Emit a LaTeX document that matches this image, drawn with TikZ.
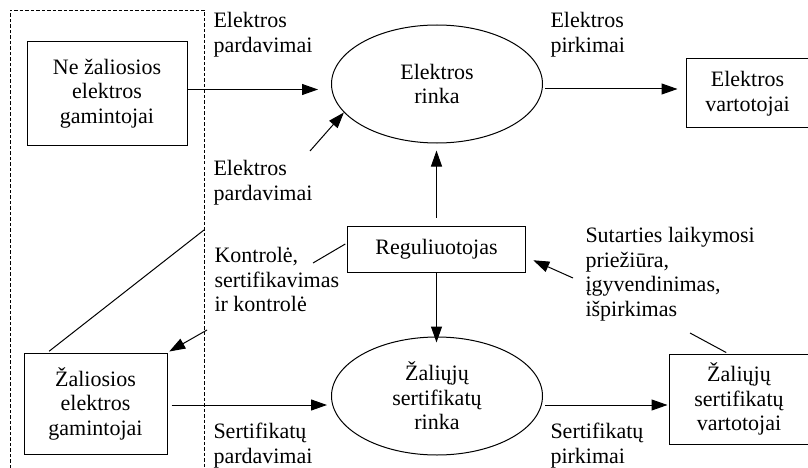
\documentclass[tikz,border=0pt]{standalone}
\usepackage{fontspec}
\setmainfont{Liberation Serif}
\usetikzlibrary{shapes.geometric,arrows.meta}

\begin{document}
\begin{tikzpicture}[x=1pt,y=-1pt,line width=1pt,
  every node/.style={font=\fontsize{22}{24.5}\selectfont},
  box/.style={draw,rectangle,align=center,inner sep=0pt},
  market/.style={draw,ellipse,align=center,inner sep=0pt,minimum width=211pt,minimum height=118pt},
  lbl/.style={anchor=north west,align=left,inner sep=0pt},
  arr/.style={-{Triangle[length=16pt,width=11pt]}}]
\useasboundingbox (0,0) rectangle (808,468);

% dashed group of producers
\draw[dash pattern=on 3.5pt off 2pt,line width=0.8pt] (10,468) -- (10,10) -- (204,10) -- (204,468);
\coordinate(F) at (204,230);

\node(NG)[box,minimum width=160pt,minimum height=103pt] at (107,93.5) {Ne žaliosios\\elektros\\gamintojai};
\node(ER)[market] at (437,84) {Elektros\\rinka};
\node(EV)[box,minimum width=123pt,minimum height=69pt] at (747.5,93.5) {Elektros\\vartotojai};
\node(RG)[box,minimum width=178pt,minimum height=46pt] at (436.5,249) {Reguliuotojas};
\node(ZR)[market] at (437,396) {Žaliųjų\\sertifikatų\\rinka};
\node(ZG)[box,minimum width=143pt,minimum height=101pt] at (95.5,403.5) {Žaliosios\\elektros\\gamintojai};
\node(ZV)[box,minimum width=140pt,minimum height=90pt] at (739,399) {Žaliųjų\\sertifikatų\\vartotojai};

% labels
\node(L1)[lbl] at (213,12) {Elektros\\pardavimai};
\node(L2)[lbl] at (550,12) {Elektros\\pirkimai};
\node(L3)[lbl] at (213,160) {Elektros\\pardavimai};
\node(L4)[lbl] at (214,247) {Kontrolė,\\sertifikavimas\\ir kontrolė};
\node(L5)[lbl] at (585,227) {Sutarties laikymosi\\priežiūra,\\įgyvendinimas,\\išpirkimas};
\node(L6)[lbl] at (213,423) {Sertifikatų\\pardavimai};
\node(L7)[lbl] at (550,423) {Sertifikatų\\pirkimai};

\coordinate(t3) at (310,151);
\coordinate(t8) at (573,278);
\coordinate(t9) at (313,263);
\coordinate(t10) at (207,330);
\coordinate(t12) at (690,333);

\draw[arr,shorten >=13pt] ([yshift=4pt]NG.east) -- ([yshift=4pt]NG.east -| ER.west);
\draw[arr,shorten <=2pt,shorten >=8pt] ([yshift=-5pt]ER.east) -- ([yshift=-5pt]ER.east -| EV.west);
\draw[arr] (t3) -- (ER.197);
\draw[arr,shorten <=8pt,shorten >=7pt] (RG.north) -- (RG.north |- ER.south);
\draw[arr,shorten >=-6pt] (RG.south) -- (RG.south |- ZR.north);
\draw[arr,shorten <=4pt,shorten >=4pt] ([yshift=-1.5pt]ZG.east) -- ([yshift=-1.5pt]ZG.east -| ZR.west);
\draw[arr,shorten <=2pt,shorten >=1pt] ([yshift=-9pt]ZR.east) -- ([yshift=-9pt]ZR.east -| ZV.west);
\draw[arr,shorten >=8pt] (t8) -- ([yshift=-8pt]RG.east);
\draw[shorten <=2pt] ([yshift=6pt]RG.west) -- (t9);
\draw[arr,shorten >=2pt] (t10) -- (ZG.north east);
\draw[shorten <=2pt] ([xshift=24pt]ZG.north west) -- (F);
\draw[shorten >=2pt] (t12) -- ([xshift=-11pt]ZV.north);

\end{tikzpicture}
\end{document}
